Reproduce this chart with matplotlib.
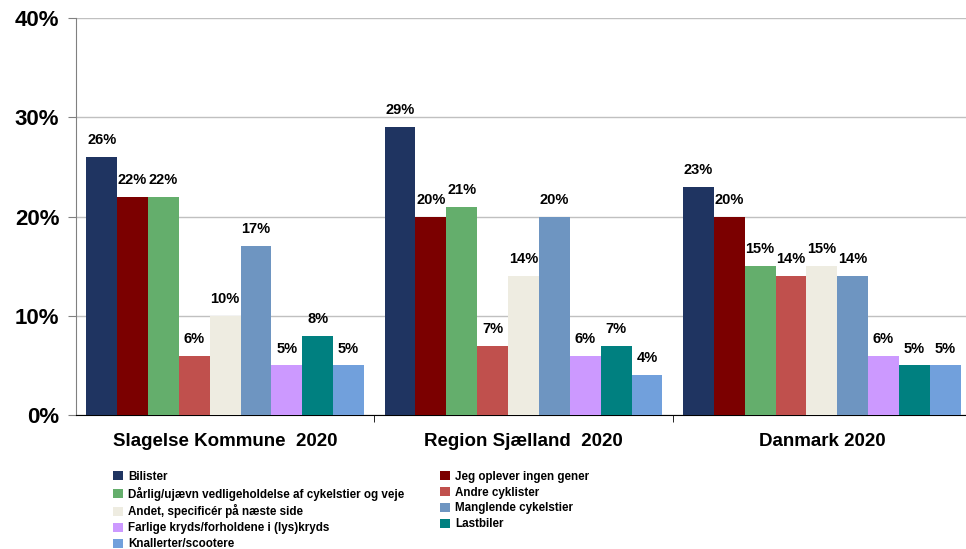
import matplotlib
matplotlib.use("Agg")
import matplotlib.pyplot as plt
import numpy as np

plt.rcParams['font.family'] = ['Liberation Sans', 'DejaVu Sans']

groups = ["Slagelse Kommune  2020", "Region Sjælland  2020", "Danmark 2020"]
series = ["Bilister", "Jeg oplever ingen gener",
          "Dårlig/ujævn vedligeholdelse af cykelstier og veje", "Andre cyklister",
          "Andet, specificér på næste side", "Manglende cykelstier",
          "Farlige kryds/forholdene i (lys)kryds", "Lastbiler",
          "Knallerter/scootere"]
values = [
    [26, 29, 23],
    [22, 20, 20],
    [22, 21, 15],
    [6, 7, 14],
    [10, 14, 15],
    [17, 20, 14],
    [5, 6, 6],
    [8, 7, 5],
    [5, 4, 5],
]
colors = ["#1F3461", "#7B0000", "#64AE6C", "#C0504D", "#EEECE1",
          "#6E95C1", "#CC99FF", "#008080", "#71A0DC"]
yticks = [0, 10, 20, 30, 40]

fig = plt.figure(figsize=(9.66, 5.49), dpi=100)
ax = fig.add_axes([76 / 966, 0.244, 895 / 966, 0.723])

n = len(series)
total = 0.931
bw = total / n
x = np.arange(len(groups))
handles = []
for i, (s, v, c) in enumerate(zip(series, values, colors)):
    pos = x - total / 2 + bw * (i + 0.5)
    b = ax.bar(pos, v, width=bw, color=c, label=s, zorder=3, linewidth=0)
    handles.append(b)
    for p, val in zip(pos, v):
        ax.text(p, val + 1.0, f"{val}%", ha='center', va='bottom',
                fontsize=10.5, fontweight='bold', zorder=4)

ax.set_xlim(-0.5, 2.5)
ax.set_ylim(0, 40)
ax.set_yticks(yticks)
ax.set_yticklabels([f"{t}%" for t in yticks], fontsize=16, fontweight='bold')
ax.yaxis.grid(True, color='#C0C0C0', linewidth=1, zorder=0)
ax.set_axisbelow(True)
ax.set_xticks(x)
ax.set_xticklabels(groups, fontsize=13.5, fontweight='bold')
ax.set_xticks([0.5, 1.5], minor=True)
ax.tick_params(axis='x', which='major', length=0, pad=13)
ax.tick_params(axis='x', which='minor', length=5, direction='out', color='black')
ax.tick_params(axis='y', length=6, direction='out', color='#808080', pad=6)
for side in ['top', 'right']:
    ax.spines[side].set_visible(False)
ax.spines['left'].set_color('#808080')
ax.spines['bottom'].set_color('black')

left_h = [handles[i] for i in [0, 2, 4, 6, 8]]
right_h = [handles[i] for i in [1, 3, 5, 7]]
kw = dict(frameon=False, prop={'size': 8.4, 'weight': 'bold'}, handlelength=0.85,
          handleheight=0.85, handletextpad=0.45, labelspacing=0.33, borderaxespad=0)
l1 = fig.legend(left_h, [h.get_label() for h in left_h], loc='upper left',
                bbox_to_anchor=(0.112, 0.151), **kw)
l2 = fig.legend(right_h, [h.get_label() for h in right_h], loc='upper left',
                bbox_to_anchor=(0.451, 0.151), **kw)

fig.savefig("out.png", dpi=100)
